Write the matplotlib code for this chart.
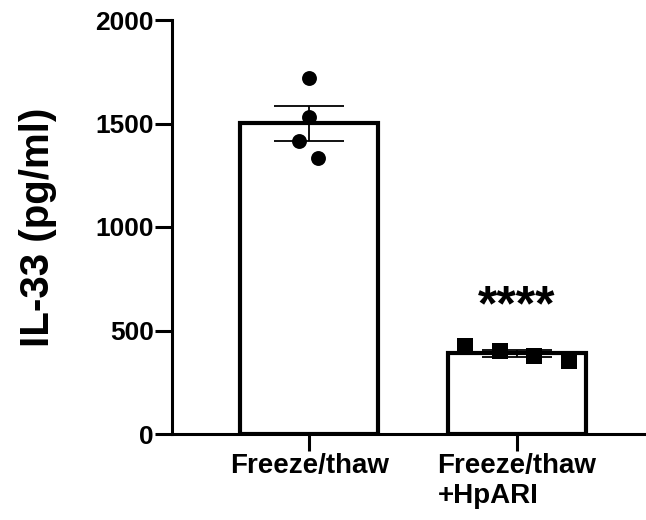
import matplotlib
matplotlib.use("Agg")
import matplotlib.pyplot as plt
import numpy as np

plt.rcParams['font.family'] = ['Liberation Sans', 'DejaVu Sans']
plt.rcParams['font.weight'] = 'bold'

groups = ['Freeze/thaw', 'Freeze/thaw\n+HpARI']
freeze_thaw = [1721, 1533, 1417, 1335]
freeze_thaw_hpari = [425, 401, 379, 353]
# horizontal scatter of the individual points within each bar
spread_ft = [0.0, 0.0, -0.048, 0.043]
spread_hp = [-0.25, -0.082, 0.082, 0.25]
significance = '****'

def sem(v):
    v = np.asarray(v, dtype=float)
    return v.std(ddof=1) / np.sqrt(len(v))

means = [np.mean(freeze_thaw), np.mean(freeze_thaw_hpari)]
errs = [sem(freeze_thaw), sem(freeze_thaw_hpari)]
x = np.arange(len(groups))

fig = plt.figure(figsize=(6.46, 5.2), dpi=100)
ax = fig.add_axes([172 / 646, 86 / 520, 474 / 646, 414 / 520])

ax.bar(x, means, width=0.665, color='white', edgecolor='black', linewidth=3, zorder=1)
ax.errorbar(x, means, yerr=errs, fmt='none', ecolor='black', elinewidth=1.3,
            capsize=25, capthick=1.3, zorder=2)

ax.scatter(x[0] + np.array(spread_ft), freeze_thaw, s=115, marker='o',
           color='black', zorder=3, linewidths=0)
ax.scatter(x[1] + np.array(spread_hp), freeze_thaw_hpari, s=130, marker='s',
           color='black', zorder=3, linewidths=0)

ax.text(x[1], 548, significance, ha='center', va='baseline', fontsize=36,
        fontweight='bold')

ax.set_xlim(-0.66, 1.62)
ax.set_ylim(0, 2000)
ax.set_yticks([0, 500, 1000, 1500, 2000])
ax.set_xticks(x)
ax.set_xticklabels(groups, multialignment='left')

for s in ['top', 'right']:
    ax.spines[s].set_visible(False)
for s in ['left', 'bottom']:
    ax.spines[s].set_linewidth(2.2)

ax.tick_params(axis='both', length=12, width=2.2)
ax.tick_params(axis='y', pad=1, labelsize=19)
ax.tick_params(axis='x', pad=2, labelsize=20)
for lab in ax.get_xticklabels() + ax.get_yticklabels():
    lab.set_fontweight('bold')

ax.set_ylabel('IL-33 (pg/ml)', fontsize=29, fontweight='bold')
ax.yaxis.set_label_coords(-0.243, 0.5)

fig.savefig('out.png', dpi=100)
